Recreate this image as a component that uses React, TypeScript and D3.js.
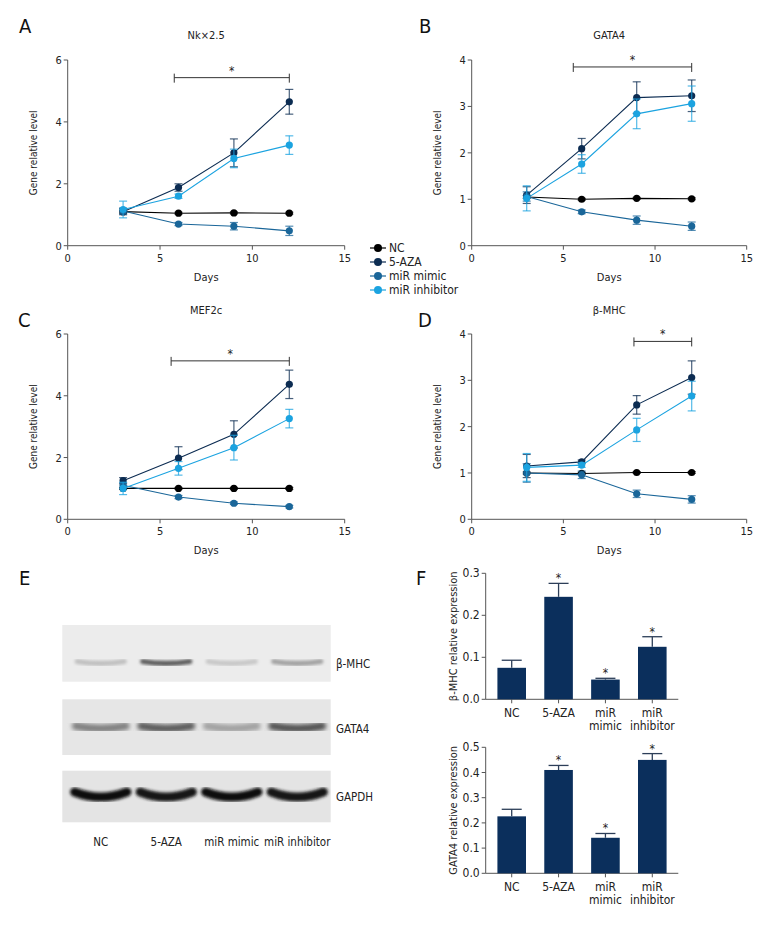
import React from "react";
import * as d3 from "d3";

const FONT = "'Liberation Sans Narrow','DejaVu Sans Condensed','Roboto Condensed',sans-serif";

const days = [3, 6, 9, 12];
const seriesNames = ["NC", "5-AZA", "miR mimic", "miR inhibitor"];
const seriesColors = ["#000000", "#0c2c52", "#1a6699", "#1ba3e0"];
const xTicks = [0, 5, 10, 15];

// Nkx2.5
const nkxMean = [
  [1.1, 1.05, 1.06, 1.05],
  [1.1, 1.88, 3.0, 4.65],
  [1.12, 0.7, 0.63, 0.48],
  [1.17, 1.6, 2.82, 3.25],
];
const nkxErr = [
  [0.05, 0.03, 0.03, 0.03],
  [0.1, 0.12, 0.45, 0.4],
  [0.1, 0.05, 0.12, 0.15],
  [0.27, 0.07, 0.3, 0.3],
];
// GATA4
const gataMean = [
  [1.05, 1.0, 1.02, 1.01],
  [1.09, 2.09, 3.19, 3.23],
  [1.06, 0.73, 0.55, 0.42],
  [1.02, 1.76, 2.84, 3.06],
];
const gataErr = [
  [0.03, 0.02, 0.02, 0.02],
  [0.18, 0.22, 0.34, 0.34],
  [0.1, 0.04, 0.09, 0.09],
  [0.27, 0.2, 0.32, 0.38],
];
// MEF2c
const mefMean = [
  [1.0, 1.0, 1.0, 1.0],
  [1.25, 1.98, 2.75, 4.37],
  [1.1, 0.72, 0.52, 0.41],
  [1.0, 1.65, 2.32, 3.26],
];
const mefErr = [
  [0.03, 0.03, 0.03, 0.03],
  [0.1, 0.37, 0.44, 0.46],
  [0.08, 0.05, 0.04, 0.04],
  [0.2, 0.22, 0.4, 0.3],
];
// beta-MHC
const mhcMean = [
  [1.0, 0.99, 1.01, 1.01],
  [1.15, 1.24, 2.47, 3.06],
  [1.0, 0.96, 0.55, 0.43],
  [1.12, 1.17, 1.93, 2.66],
];
const mhcErr = [
  [0.02, 0.02, 0.02, 0.02],
  [0.25, 0.04, 0.2, 0.36],
  [0.2, 0.08, 0.08, 0.08],
  [0.3, 0.05, 0.25, 0.32],
];

// significance bars [from day, to day, level]
const nkxSig = [5.77, 12, 5.43];
const gataSig = [5.54, 12, 3.85];
const mefSig = [5.6, 12, 5.13];
const mhcSig = [8.85, 12, 3.84];

// Panel F
const barCats = ["NC", "5-AZA", "miR mimic", "miR inhibitor"];
const barCatLines = [["NC"], ["5-AZA"], ["miR", "mimic"], ["miR", "inhibitor"]];
const fMhcMean = [0.075, 0.244, 0.047, 0.125];
const fMhcErr = [0.018, 0.032, 0.003, 0.024];
const fGataMean = [0.226, 0.41, 0.141, 0.45];
const fGataErr = [0.028, 0.018, 0.017, 0.025];
const fSig = [false, true, true, true];
const fMhcTicks = [0, 0.1, 0.2, 0.3];
const fGataTicks = [0, 0.1, 0.2, 0.3, 0.4, 0.5];

// Panel E (band intensities)
const blotLanes = ["NC", "5-AZA", "miR mimic", "miR inhibitor"];
const blotProteins = ["β-MHC", "GATA4", "GAPDH"];
const blotMhc = [0.16, 0.62, 0.12, 0.3];
const blotGata = [0.45, 0.62, 0.3, 0.66];
const blotGapdh = [0.97, 0.95, 0.98, 0.93];

const AXIS = "#555";

type LPProps = {
  x0: number; x1: number; yTop: number; yBot: number; ymax: number; yticks: number[];
  title: string; titleY: number; letter: string; letterX: number; letterY: number;
  means: number[][]; errs: number[][]; sig: number[];
};

function LinePanel(p: LPProps) {
  const xs = d3.scaleLinear().domain([0, 15]).range([p.x0, p.x1]);
  const ys = d3.scaleLinear().domain([0, p.ymax]).range([p.yBot, p.yTop]);
  const line = d3.line<number>().x((_, i) => xs(days[i])).y((d) => ys(d));
  const sx0 = xs(p.sig[0]);
  const sx1 = xs(p.sig[1]);
  const sy = ys(p.sig[2]);
  return (
    <g fontFamily={FONT}>
      <text x={p.letterX} y={p.letterY} fontSize={20} fill="#111">{p.letter}</text>
      <text x={(p.x0 + p.x1) / 2} y={p.titleY} fontSize={11} textAnchor="middle" fill="#222">{p.title}</text>
      <line x1={p.x0} x2={p.x0} y1={p.yTop} y2={p.yBot} stroke={AXIS} strokeWidth={1} />
      <line x1={p.x0} x2={p.x1} y1={p.yBot} y2={p.yBot} stroke={AXIS} strokeWidth={1} />
      {p.yticks.map((t) => (
        <g key={"y" + t}>
          <line x1={p.x0 - 4} x2={p.x0} y1={ys(t)} y2={ys(t)} stroke={AXIS} />
          <text x={p.x0 - 6} y={ys(t) + 4} fontSize={11} textAnchor="end" fill="#222">{t}</text>
        </g>
      ))}
      {xTicks.map((t) => (
        <g key={"x" + t}>
          <line x1={xs(t)} x2={xs(t)} y1={p.yBot} y2={p.yBot + 4} stroke={AXIS} />
          <text x={xs(t)} y={p.yBot + 16} fontSize={11} textAnchor="middle" fill="#222">{t}</text>
        </g>
      ))}
      <text x={(p.x0 + p.x1) / 2} y={p.yBot + 35} fontSize={11} textAnchor="middle" fill="#222">Days</text>
      <text transform={`translate(${p.x0 - 31},${(p.yTop + p.yBot) / 2}) rotate(-90)`} fontSize={10} textAnchor="middle" fill="#222">Gene relative level</text>
      <line x1={sx0} x2={sx1} y1={sy} y2={sy} stroke="#333" strokeWidth={1} />
      <line x1={sx0} x2={sx0} y1={sy - 4} y2={sy + 5} stroke="#333" />
      <line x1={sx1} x2={sx1} y1={sy - 4} y2={sy + 5} stroke="#333" />
      <text x={(sx0 + sx1) / 2} y={sy - 3} fontSize={12} textAnchor="middle" fill="#222">*</text>
      {p.means.map((m, si) => (
        <g key={si}>
          {m.map((v, i) => {
            const e = p.errs[si][i];
            const cx = xs(days[i]);
            return (
              <g key={i} stroke={seriesColors[si]} strokeOpacity={0.75} strokeWidth={1.2}>
                <line x1={cx} x2={cx} y1={ys(v - e)} y2={ys(v + e)} />
                <line x1={cx - 4} x2={cx + 4} y1={ys(v - e)} y2={ys(v - e)} />
                <line x1={cx - 4} x2={cx + 4} y1={ys(v + e)} y2={ys(v + e)} />
              </g>
            );
          })}
          <path d={line(m) || ""} fill="none" stroke={seriesColors[si]} strokeWidth={1.1} />
          {m.map((v, i) => (
            <circle key={"c" + i} cx={xs(days[i])} cy={ys(v)} r={3.6} fill={seriesColors[si]} />
          ))}
        </g>
      ))}
    </g>
  );
}

type BPProps = {
  yTop: number; yBot: number; ymax: number; ticks: number[]; mean: number[]; err: number[];
  ylabel: string;
};

function BarPanel(p: BPProps) {
  const ax0 = 485.7;
  const ax1 = 678.3;
  const xb = d3.scaleBand<string>().domain(barCats).range([ax0, ax1]).paddingInner(0.39).paddingOuter(0.25);
  const ys = d3.scaleLinear().domain([0, p.ymax]).range([p.yBot, p.yTop]);
  const bw = xb.bandwidth();
  return (
    <g fontFamily={FONT}>
      <line x1={ax0} x2={ax0} y1={p.yTop} y2={p.yBot} stroke={AXIS} />
      <line x1={ax0} x2={ax1} y1={p.yBot} y2={p.yBot} stroke={AXIS} />
      {p.ticks.map((t) => (
        <g key={t}>
          <line x1={ax0 - 4} x2={ax0} y1={ys(t)} y2={ys(t)} stroke={AXIS} />
          <text x={ax0 - 6} y={ys(t) + 4} fontSize={12} textAnchor="end" fill="#222">{t.toFixed(1)}</text>
        </g>
      ))}
      <text transform={`translate(${ax0 - 29},${(p.yTop + p.yBot) / 2}) rotate(-90)`} fontSize={11} textAnchor="middle" fill="#222">{p.ylabel}</text>
      {barCats.map((c, i) => {
        const x = xb(c) as number;
        const cx = x + bw / 2;
        const top = ys(p.mean[i]);
        const et = ys(p.mean[i] + p.err[i]);
        return (
          <g key={c}>
            <line x1={cx} x2={cx} y1={p.yBot} y2={p.yBot + 4} stroke={AXIS} />
            <line x1={cx} x2={cx} y1={top} y2={et} stroke="#2c3e58" strokeWidth={1.3} />
            <line x1={cx - 10} x2={cx + 10} y1={et} y2={et} stroke="#2c3e58" strokeWidth={1.3} />
            <rect x={x} y={top} width={bw} height={p.yBot - top} fill="#0b2f5c" />
            {fSig[i] && (
              <text x={cx} y={et - 1} fontSize={12} textAnchor="middle" fill="#222">*</text>
            )}
            {barCatLines[i].map((ln, k) => (
              <text key={k} x={cx} y={p.yBot + 18 + k * 13} fontSize={12} textAnchor="middle" fill="#222">{ln}</text>
            ))}
          </g>
        );
      })}
    </g>
  );
}

function Blot() {
  const bx0 = 62.3;
  const bx1 = 330.7;
  const lanes = d3.scaleBand<string>().domain(blotLanes).range([68, 330]);
  const rows = [
    { name: blotProteins[0], vals: blotMhc, y: 625, h: 56.7, by: 663, bh: 5, curve: 1.5, bg: "#ececec", lw: 0.72, blur: 1.6 },
    { name: blotProteins[1], vals: blotGata, y: 699.3, h: 55.7, by: 728, bh: 8, curve: 2, bg: "#e6e6e6", lw: 0.76, blur: 2.2 },
    { name: blotProteins[2], vals: blotGapdh, y: 770.7, h: 51.6, by: 796, bh: 9, curve: 4, bg: "#e4e4e4", lw: 0.8, blur: 1.4 },
  ];
  const gray = (v: number) => {
    const c = Math.round(225 - v * 215);
    return `rgb(${c},${c},${c})`;
  };
  return (
    <g fontFamily={FONT}>
      <defs>
        {rows.map((r, k) => (
          <filter key={k} id={"blur" + k} x="-20%" y="-100%" width="140%" height="300%">
            <feGaussianBlur stdDeviation={r.blur} />
          </filter>
        ))}
      </defs>
      <text x={19} y={585} fontSize={20} fill="#111">E</text>
      {rows.map((r, k) => (
        <g key={r.name}>
          <rect x={bx0} y={r.y} width={bx1 - bx0} height={r.h} fill={r.bg} />
          {r.vals.map((v, i) => {
            const c = (lanes(blotLanes[i]) as number) + lanes.bandwidth() / 2;
            const hw = (lanes.bandwidth() * r.lw) / 2;
            const d = `M${c - hw},${r.by - r.curve} Q${c},${r.by + r.curve * 1.5} ${c + hw},${r.by - r.curve}`;
            return (
              <path key={i} d={d} fill="none" stroke={gray(v)} strokeWidth={r.bh} strokeLinecap="round" filter={`url(#blur${k})`} />
            );
          })}
          <text x={336} y={r.by + 5} fontSize={11.5} fill="#222">{r.name}</text>
        </g>
      ))}
      {blotLanes.map((l) => (
        <text key={l} x={(lanes(l) as number) + lanes.bandwidth() / 2} y={846} fontSize={11.5} textAnchor="middle" fill="#222">{l}</text>
      ))}
    </g>
  );
}

function Legend() {
  const ys = [248, 262, 276, 290];
  return (
    <g fontFamily={FONT}>
      {seriesNames.map((n, i) => (
        <g key={n}>
          <line x1={370} x2={386} y1={ys[i]} y2={ys[i]} stroke={seriesColors[i]} strokeWidth={1.2} />
          <circle cx={378} cy={ys[i]} r={4} fill={seriesColors[i]} />
          <text x={389} y={ys[i] + 4} fontSize={12} fill="#222">{n}</text>
        </g>
      ))}
    </g>
  );
}

export default function App() {
  return (
    <svg width={780} height={936} style={{ position: "absolute", left: 0, top: 0, background: "#fff" }}>
      <rect width={780} height={936} fill="#fff" />
      <LinePanel x0={67.7} x1={344.7} yTop={60} yBot={245.7} ymax={6} yticks={[0, 2, 4, 6]}
        title="Nk×2.5" titleY={39} letter="A" letterX={19} letterY={33} means={nkxMean} errs={nkxErr} sig={nkxSig} />
      <LinePanel x0={471.7} x1={746.7} yTop={60} yBot={245.7} ymax={4} yticks={[0, 1, 2, 3, 4]}
        title="GATA4" titleY={39} letter="B" letterX={419} letterY={33} means={gataMean} errs={gataErr} sig={gataSig} />
      <LinePanel x0={67.7} x1={344.7} yTop={334} yBot={519.3} ymax={6} yticks={[0, 2, 4, 6]}
        title="MEF2c" titleY={314} letter="C" letterX={18} letterY={327} means={mefMean} errs={mefErr} sig={mefSig} />
      <LinePanel x0={471.7} x1={746.7} yTop={334} yBot={519.3} ymax={4} yticks={[0, 1, 2, 3, 4]}
        title="β-MHC" titleY={314} letter="D" letterX={418} letterY={327} means={mhcMean} errs={mhcErr} sig={mhcSig} />
      <Legend />
      <Blot />
      <g fontFamily={FONT}>
        <text x={416} y={585} fontSize={20} fill="#111">F</text>
      </g>
      <BarPanel yTop={573.3} yBot={699.3} ymax={0.3} ticks={fMhcTicks} mean={fMhcMean} err={fMhcErr} ylabel="β-MHC relative expression" />
      <BarPanel yTop={747.3} yBot={873.3} ymax={0.5} ticks={fGataTicks} mean={fGataMean} err={fGataErr} ylabel="GATA4 relative expression" />
    </svg>
  );
}
